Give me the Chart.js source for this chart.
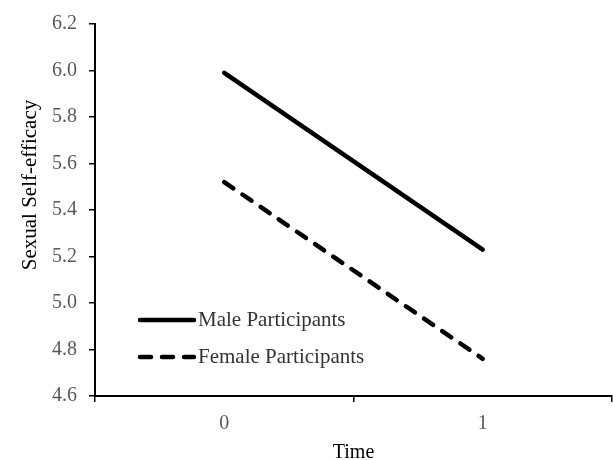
<!DOCTYPE html>
<html lang="en">
<head>
    <meta charset="UTF-8">
    <title>Sexual Self-efficacy over Time</title>
    <style>
        body {
            margin: 0;
            background-color: #fff;
        }
        .chart-container {
            width: 613px;
            height: 460px;
        }
    </style>
    <script src="https://cdn.jsdelivr.net/npm/chart.js"></script>
</head>
<body>
    <div class="chart-container">
        <canvas id="chart" width="613" height="460"></canvas>
    </div>

    <script>
        // Datos
        const timeLabels = ['0', '1'];
        const maleValues = [5.99, 5.23];
        const femaleValues = [5.52, 4.76];
        const seriesNames = ['Male Participants', 'Female Participants'];

        const fontFamily = '"Liberation Serif", "Times New Roman", serif';

        // Leyenda dibujada dentro del area del grafico (abajo a la izquierda)
        const insideLegend = {
            id: 'insideLegend',
            afterDraw(chart) {
                const ctx = chart.ctx;
                const area = chart.chartArea;
                const x0 = area.left + 43;
                const rows = [320, 357];
                ctx.save();
                chart.data.datasets.forEach((ds, i) => {
                    const y = rows[i];
                    ctx.strokeStyle = ds.borderColor;
                    ctx.lineWidth = ds.borderWidth;
                    ctx.lineCap = 'round';
                    ctx.setLineDash(ds.borderDash || []);
                    ctx.beginPath();
                    ctx.moveTo(x0 + 2, y);
                    ctx.lineTo(x0 + 56, y);
                    ctx.stroke();
                    ctx.setLineDash([]);
                    ctx.fillStyle = '#333';
                    ctx.font = '21px ' + fontFamily;
                    ctx.textBaseline = 'middle';
                    ctx.textAlign = 'left';
                    ctx.fillText(ds.label, x0 + 60, y);
                });
                // titulo del eje Y
                ctx.translate(30, 185);
                ctx.rotate(-Math.PI / 2);
                ctx.fillStyle = '#000';
                ctx.font = '21px ' + fontFamily;
                ctx.textAlign = 'center';
                ctx.textBaseline = 'middle';
                ctx.fillText('Sexual Self-efficacy', 0, 0);
                ctx.restore();
            }
        };

        const ctx = document.getElementById('chart').getContext('2d');
        new Chart(ctx, {
            type: 'line',
            data: {
                labels: timeLabels,
                datasets: [{
                    label: seriesNames[0],
                    data: maleValues,
                    borderColor: '#000',
                    borderWidth: 4.5,
                    borderCapStyle: 'round',
                    pointRadius: 0,
                    fill: false
                }, {
                    label: seriesNames[1],
                    data: femaleValues,
                    borderColor: '#000',
                    borderWidth: 4.5,
                    borderDash: [11, 11],
                    borderCapStyle: 'round',
                    pointRadius: 0,
                    fill: false
                }]
            },
            options: {
                responsive: false,
                animation: false,
                layout: {
                    padding: { top: 12, right: 1, left: 0, bottom: 0 }
                },
                scales: {
                    x: {
                        offset: true,
                        grid: {
                            offset: true,
                            drawOnChartArea: false,
                            drawTicks: true,
                            tickLength: 6,
                            color: '#000',
                            lineWidth: 1.5
                        },
                        border: { display: true, color: '#000', width: 2 },
                        ticks: {
                            color: '#595959',
                            font: { family: fontFamily, size: 20 },
                            padding: 10
                        },
                        title: {
                            display: true,
                            text: 'Time',
                            color: '#000',
                            font: { family: fontFamily, size: 20 },
                            padding: { top: 2, bottom: -5 }
                        },
                        afterFit: function(scale) {
                            scale.height = 64;
                        }
                    },
                    y: {
                        min: 4.6,
                        max: 6.2,
                        grid: {
                            drawOnChartArea: false,
                            drawTicks: true,
                            tickLength: 6,
                            color: '#000',
                            lineWidth: 1.5
                        },
                        border: { display: true, color: '#000', width: 2 },
                        ticks: {
                            stepSize: 0.2,
                            color: '#595959',
                            font: { family: fontFamily, size: 20 },
                            padding: 12,
                            callback: function(value) {
                                return value.toFixed(1);
                            }
                        },
                        afterFit: function(scale) {
                            scale.width = 95;
                        }
                    }
                },
                plugins: {
                    legend: { display: false },
                    tooltip: { enabled: false }
                }
            },
            plugins: [insideLegend]
        });
    </script>
</body>
</html>
